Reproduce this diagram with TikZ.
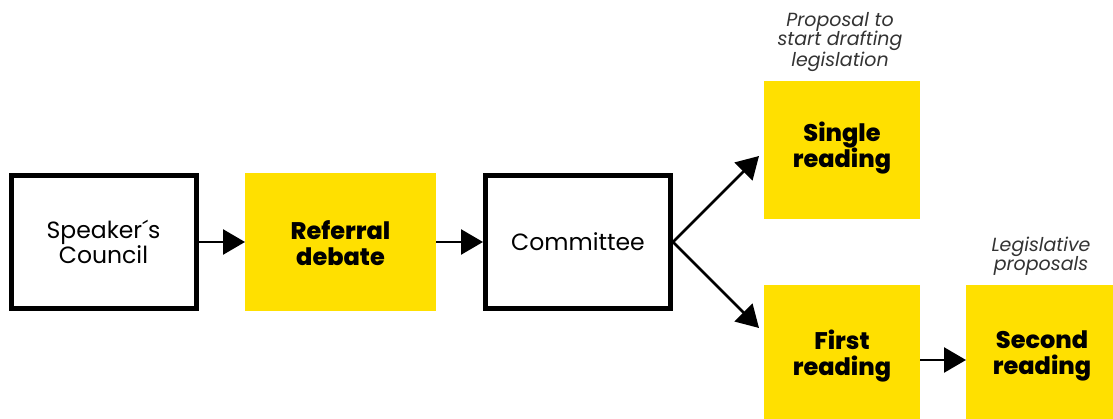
\documentclass[tikz,border=0pt]{standalone}
\usepackage{fontspec}
\setmainfont{Poppins}[BoldFont={* ExtraBold}]
\usetikzlibrary{arrows.meta,calc}
\definecolor{ylw}{HTML}{FFE000}
\definecolor{lbl}{HTML}{333333}
\tikzset{
  wbox/.style={draw=black,line width=5pt,fill=white,minimum width=185pt,minimum height=133pt,inner sep=0pt,outer sep=0pt,align=center,font=\fontsize{23.5}{25.5}\selectfont},
  ybox/.style={fill=ylw,inner sep=0pt,outer sep=0pt},
  ytext/.style={inner sep=0pt,align=center,font=\fontsize{24}{26.5}\selectfont\bfseries},
  arr/.style={line width=2.6pt,-{Triangle[length=22pt,width=25pt]}},
  note/.style={align=center,text=lbl,font=\fontsize{19}{19.5}\selectfont\itshape,inner sep=0pt}
}
\begin{document}
\begin{tikzpicture}[x=1pt,y=-1pt]
\path[use as bounding box] (0,0) rectangle (1113,419);
\node[wbox] (sp) at (103.5,242) {Speaker´s\\Council};
\node[ybox,minimum width=191pt,minimum height=138pt] (ref) at (340.5,242) {};
\node[ytext] (reft) at (340.5,243) {Referral\\debate};
\node[wbox] (com) at (578,242) {Committee};
\node[ybox,minimum width=156pt,minimum height=138pt] (sgl) at (842,150) {};
\node[ytext] (sglt) at (842,148) {Single\\reading};
\node[ybox,minimum width=156pt,minimum height=134pt] (fst) at (842,352) {};
\node[ytext] (fstt) at (842,356) {First\\reading};
\node[ybox,minimum width=148pt,minimum height=134pt] (snd) at (1040,352) {};
\node[ytext] (sndt) at (1042,356) {Second\\reading};
\node[note] (n1) at (840,42) {Proposal to\\start drafting\\legislation};
\node[note] (n2) at (1041,256) {Legislative\\proposals};
\coordinate (tsgl) at (759,156);
\coordinate (tfst) at (759,328);
\draw[arr] ($(sp.east)+(2.5,0)$) -- (ref.west);
\draw[arr] (ref.east) -- ($(com.west)+(-2.5,0)$);
\draw[arr] ($(com.east)+(2.5,0)$) -- (tsgl);
\draw[arr] ($(com.east)+(2.5,0)$) -- (tfst);
\draw[arr] ($(fst.east)+(0,8)$) -- ($(snd.west)+(0,8)$);
\end{tikzpicture}
\end{document}
